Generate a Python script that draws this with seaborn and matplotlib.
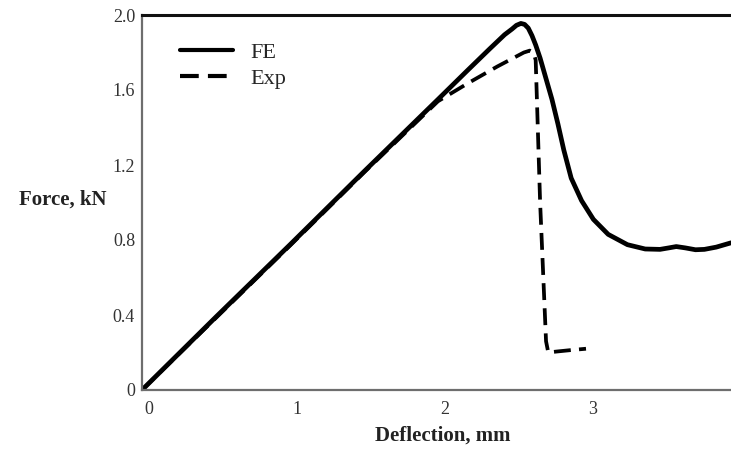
import numpy as np
import pandas as pd
import matplotlib
matplotlib.use("Agg")
import matplotlib.pyplot as plt
from matplotlib.transforms import ScaledTranslation
import seaborn as sns

# ---- data ----
fe_x = [0.0, 0.5, 1.0, 1.5, 2.0, 2.2, 2.35, 2.45, 2.50, 2.53, 2.56, 2.585, 2.61, 2.635, 2.66,
        2.69, 2.73, 2.77, 2.81, 2.85, 2.90, 2.97, 3.05, 3.15, 3.28, 3.40, 3.50, 3.56, 3.61,
        3.67, 3.74, 3.80, 3.88, 3.98]
fe_y = [0.0, 0.39, 0.775, 1.165, 1.55, 1.705, 1.82, 1.895, 1.925, 1.945, 1.955, 1.95, 1.93, 1.89, 1.84,
        1.77, 1.66, 1.55, 1.42, 1.28, 1.13, 1.01, 0.91, 0.83, 0.775, 0.752, 0.750, 0.758, 0.765,
        0.758, 0.748, 0.750, 0.762, 0.785]

exp_x = [0.0, 0.5, 1.0, 1.5, 2.0, 2.2, 2.4, 2.52, 2.58, 2.62, 2.645, 2.66, 2.69, 2.73, 2.745,
         2.80, 2.90, 3.0]
exp_y = [0.0, 0.385, 0.77, 1.16, 1.54, 1.635, 1.725, 1.775, 1.80, 1.81, 1.80, 1.76, 1.00, 0.26, 0.20,
         0.205, 0.213, 0.22]

x_ticks = [0, 1, 2, 3]
y_ticks = [0, 0.4, 0.8, 1.2, 1.6, 2.0]
y_tick_labels = ["0", "0.4", "0.8", "1.2", "1.6", "2.0"]
series_names = ["FE", "Exp"]

df = pd.concat([
    pd.DataFrame({"Deflection": fe_x, "Force": fe_y, "series": series_names[0]}),
    pd.DataFrame({"Deflection": exp_x, "Force": exp_y, "series": series_names[1]}),
], ignore_index=True)

sns.set_style("white")
plt.rcParams["font.family"] = ["Liberation Serif", "DejaVu Serif"]

fig = plt.figure(figsize=(7.31, 4.51), dpi=100)
ax = fig.add_axes([142 / 731, 1 - 390 / 451, 589 / 731, 375 / 451])

sns.lineplot(data=df[df.series == "FE"], x="Deflection", y="Force", ax=ax,
             color="black", lw=3.4, sort=False, estimator=None, label="FE")
sns.lineplot(data=df[df.series == "Exp"], x="Deflection", y="Force", ax=ax,
             color="black", lw=2.7, sort=False, estimator=None, label="Exp",
             linestyle=(0, (4.5, 2.2)))

ax.set_xlim(0, 589 / 148)
ax.set_ylim(0, 2.0)
ax.set_xticks(x_ticks)
ax.set_xticklabels([str(t) for t in x_ticks])
ax.set_yticks(y_ticks)
ax.set_yticklabels(y_tick_labels)
ax.tick_params(axis="both", direction="out", length=3, width=1.2, color="#555555",
               labelsize=13, labelcolor="#333333", pad=5)
ax.tick_params(axis="y", pad=2)
shift = ScaledTranslation(7 / 100, 0, fig.dpi_scale_trans)
for lab in ax.get_xticklabels():
    lab.set_transform(lab.get_transform() + shift)

for side in ["left", "bottom"]:
    ax.spines[side].set_color("#6e6e6e")
    ax.spines[side].set_linewidth(1.6)
ax.spines["top"].set_color("#111111")
ax.spines["top"].set_linewidth(2.2)
ax.spines["right"].set_visible(False)

# partial "4" tick label at the right edge (cut by the figure edge, as in the reference)
ax.text(4.0, -0.04, "4", transform=ax.transData + shift, ha="center", va="top",
        fontsize=13, color="#333333", clip_on=False)

ax.set_xlabel("")
ax.set_ylabel("")
fig.text(443 / 731, 1 - 436 / 451, "Deflection, mm", ha="center", va="center",
         fontsize=15, color="#222222", fontweight="bold")
fig.text(63 / 731, 1 - 200 / 451, "Force, kN", ha="center", va="center",
         fontsize=15, color="#222222", fontweight="bold")

leg = ax.legend(loc="upper left", bbox_to_anchor=(0.03, 0.98), frameon=False,
                fontsize=16, handlelength=2.4, handletextpad=0.8, labelspacing=0.25)
for h in leg.get_lines():
    h.set_linewidth(3.0)

fig.savefig("out.png", dpi=100)
